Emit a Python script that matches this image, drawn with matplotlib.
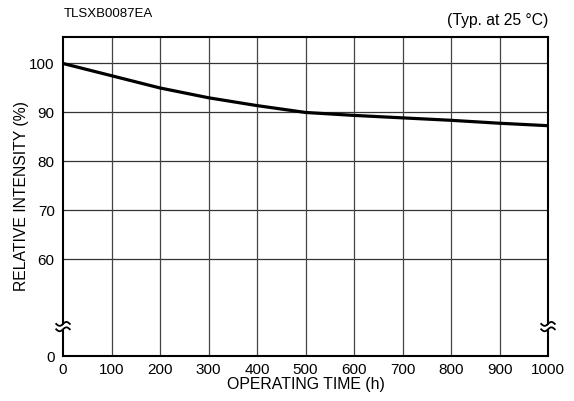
import matplotlib.pyplot as plt
import numpy as np

plt.rcParams['font.family'] = ['Liberation Sans', 'DejaVu Sans']

# Data
hours = [0, 100, 200, 300, 400, 500, 600, 700, 800, 900, 1000]
intensity = [100.0, 97.5, 95.0, 93.0, 91.4, 90.0, 89.4, 88.9, 88.4, 87.8, 87.3]

x_ticks = [0, 100, 200, 300, 400, 500, 600, 700, 800, 900, 1000]
y_ticks = [60, 70, 80, 90, 100]

# broken y axis: 0 is drawn just below the break
y_zero = 40.3
y_break = 46.3

fig = plt.figure(figsize=(5.74, 4.01), dpi=100)
ax = fig.add_axes([63 / 574, 1 - 356 / 401, 485 / 574, 319 / 401])

ax.plot(hours, intensity, color='black', linewidth=2.3, solid_capstyle='butt')

ax.set_xlim(0, 1000)
ax.set_ylim(y_zero, 105.4)
ax.set_xticks(x_ticks)
ax.set_yticks([y_zero] + y_ticks)
ax.set_yticklabels(['0'] + [str(v) for v in y_ticks])
ax.tick_params(length=0, labelsize=11, colors='black')
ax.tick_params(axis='x', pad=5)
ax.tick_params(axis='y', pad=6)

for v in y_ticks:
    ax.axhline(v, color='#333333', linewidth=0.9, zorder=1)
for v in x_ticks[1:-1]:
    ax.axvline(v, color='#444444', linewidth=0.9, zorder=1)

for s in ax.spines.values():
    s.set_linewidth(1.5)
    s.set_color('black')

ax.set_xlabel('OPERATING TIME (h)', fontsize=11.4, labelpad=0)
ax.set_ylabel('RELATIVE INTENSITY (%)', fontsize=11.3, labelpad=0)

# break marks on both sides (white gap between two wavy lines)
t = np.linspace(-1, 1, 40)
for xc in [0, 1000]:
    xs = xc + t * 14
    wave = 0.4 * np.sin(t * np.pi)
    ax.fill_between(xs, y_break - 0.5 + wave, y_break + 0.5 + wave,
                    color='white', clip_on=False, zorder=4, linewidth=0)
    for dy in [-0.55, 0.55]:
        ax.plot(xs, y_break + dy + wave, color='black', linewidth=1.3,
                clip_on=False, zorder=5)

fig.text(64 / 574, 1 - 14 / 401, 'TLSXB0087EA', fontsize=9.5, va='center', ha='left')
fig.text(548 / 574, 1 - 21 / 401, '(Typ. at 25 \u00b0C)', fontsize=11.3, va='center', ha='right')

plt.savefig('out.png', dpi=100)
